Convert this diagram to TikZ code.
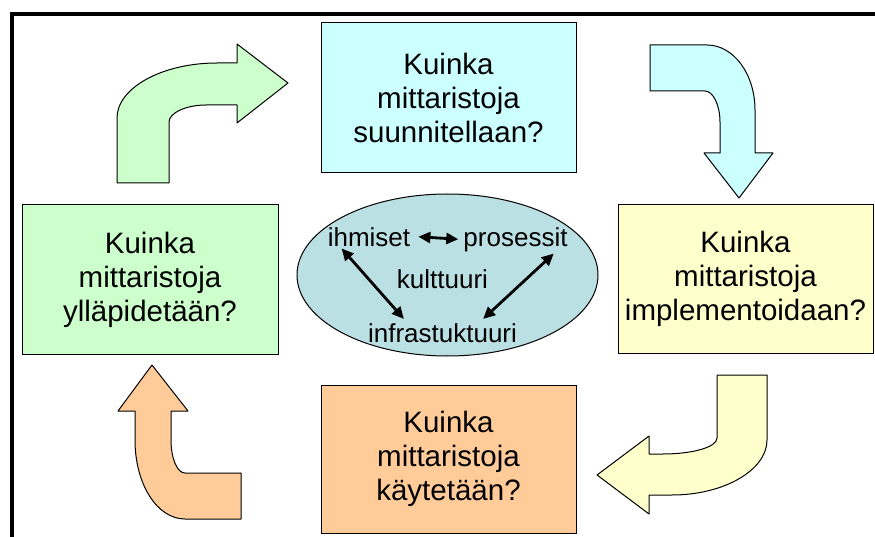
\documentclass[tikz,border=0pt]{standalone}
\usepackage{fontspec}
\setmainfont{Liberation Sans}
\usetikzlibrary{shapes.geometric,arrows.meta}
\definecolor{cgreen}{HTML}{CCFFCC}
\definecolor{ccyan}{HTML}{CCFFFF}
\definecolor{cyellow}{HTML}{FFFFCC}
\definecolor{corange}{HTML}{FFCC99}
\definecolor{cteal}{HTML}{BBE0E3}
\tikzset{
  qbox/.style={draw=black, line width=1pt, minimum width=255pt, minimum height=149pt, align=center, inner sep=0pt, font=\fontsize{29.5}{34}\selectfont},
  bentarrow/.style={draw=black, line width=1pt, line join=round},
  etext/.style={inner sep=0pt, anchor=base, font=\fontsize{26}{30}\selectfont},
  dbl/.style={{Triangle[length=12pt,width=11pt]}-{Triangle[length=12pt,width=11pt]}, line width=2.8pt},
  frameline/.style={line width=4.5pt, black}
}
\begin{document}
\begin{tikzpicture}[x=1pt,y=-1pt]
\useasboundingbox (0,0) rectangle (875,537);
% frame
\coordinate (fTL) at (12,14);
\coordinate (fTR) at (875,14);
\coordinate (fBL) at (12,537);
\draw[frameline] (fTR) -- (fTL) -- (fBL);
% boxes
\node[qbox, fill=ccyan, minimum height=150pt] (top) at (448.5,98) {Kuinka\\mittaristoja\\suunnitellaan?};
\node[qbox, fill=cgreen, minimum width=256pt] (left) at (150,279.5) {Kuinka\\mittaristoja\\ylläpidetään?};
\node[qbox, fill=cyellow, minimum height=148pt] (right) at (745.5,279) {Kuinka\\mittaristoja\\implementoidaan?};
\node[qbox, fill=corange, minimum height=148pt] (bottom) at (448.5,459) {Kuinka\\mittaristoja\\käytetään?};
% bent arrows
\draw[bentarrow, fill=cgreen] (117,183) -- (117,118) .. controls (117,88) and (162,63) .. (217,63) -- (237,63) -- (237,44) -- (288,83) -- (237,123) -- (237,105) -- (206,105) .. controls (186,105) and (169,113) .. (169,122) -- (169,183) -- cycle;
\draw[bentarrow, fill=ccyan] (650,45) -- (707,45) .. controls (733.5,45) and (755,74) .. (755,110) -- (755,153) -- (773,153) -- (739,198) -- (704,153) -- (720,153) -- (720,122) .. controls (720,105) and (713,91) .. (705,91) -- (650,91) -- cycle;
\draw[bentarrow, fill=cyellow] (717,375) -- (767,375) -- (767,440) .. controls (767,470) and (724,495) .. (672,495) -- (649,495) -- (649,514) -- (597,475) -- (649,436) -- (649,454) -- (663,454) .. controls (693,454) and (717,447) .. (717,438) -- cycle;
\draw[bentarrow, fill=corange] (135,411) -- (118,411) -- (152,365) -- (188,411) -- (171,411) -- (171,440) .. controls (171,458) and (177,473) .. (185,473) -- (241,473) -- (241,519) -- (185,519) .. controls (157,519) and (135,484) .. (135,440) -- cycle;
% ellipse
\node[ellipse, draw=black, line width=1pt, fill=cteal, minimum width=301pt, minimum height=162pt, inner sep=0pt] (ell) at (447.5,275) {};
\node[etext] (ihm) at (369,247) {ihmiset};
\node[etext] (pro) at (515.5,247) {prosessit};
\node[etext] (kul) at (442.5,288) {kulttuuri};
\node[etext] (inf) at (442.5,342) {infrastuktuuri};
\draw[dbl] ([xshift=8pt,yshift=1pt]ihm.east) -- ([xshift=-5pt,yshift=1pt]pro.west);
\draw[dbl] ([xshift=14pt,yshift=-1pt]ihm.south west) -- ([xshift=36pt,yshift=4pt]inf.north west);
\draw[dbl] ([xshift=-14pt,yshift=-1pt]pro.south east) -- ([xshift=-34pt,yshift=4pt]inf.north east);
\end{tikzpicture}
\end{document}
